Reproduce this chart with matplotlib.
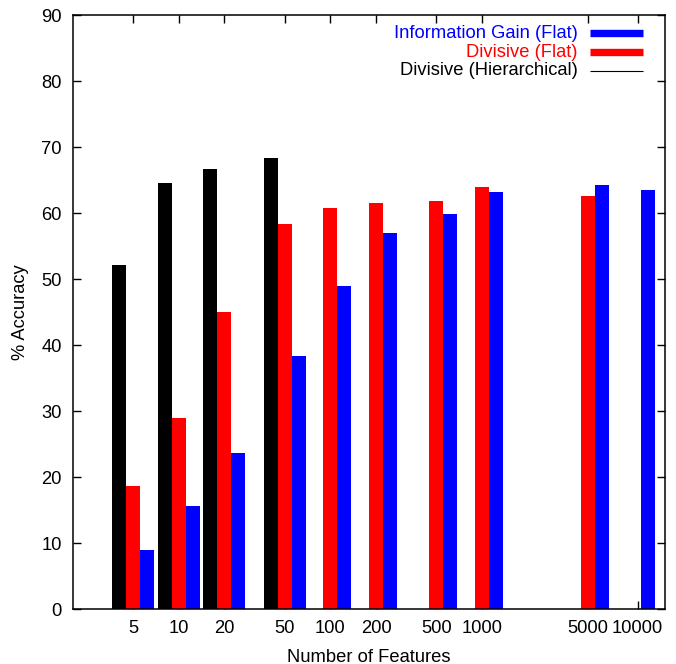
import numpy as np
import matplotlib
matplotlib.use("Agg")
import matplotlib.pyplot as plt
from matplotlib.lines import Line2D

plt.rcParams['font.family'] = ['Liberation Sans', 'DejaVu Sans']

# number of features used for each run
features = [5, 10, 20, 50, 100, 200, 500, 1000, 5000, 10000]
feature_labels = ['5', '10', '20', '50', '100', '200', '500', '1000', '5000', '10000']

# % accuracy, None where no run was made
hier_divisive = [52.1, 64.5, 66.7, 68.3, None, None, None, None, None, None]
flat_divisive = [18.7, 29.0, 45.0, 58.4, 60.8, 61.5, 61.8, 64.0, 62.6, None]
flat_infogain = [9.0, 15.6, 23.6, 38.4, 49.0, 57.0, 59.9, 63.2, 64.3, 63.5]

series = [
    ('Information Gain (Flat)', flat_infogain, '#0000ff', 1, 5.3),
    ('Divisive (Flat)', flat_divisive, '#ff0000', 0, 5.3),
    ('Divisive (Hierarchical)', hier_divisive, '#000000', -1, 0.8),
]

FS = 13.2

fig = plt.figure(figsize=(6.76, 6.64), dpi=100)
ax = fig.add_axes([0.1075, 0.0824, 0.8762, 0.895])

xpos = np.log10(features)
w = 0.0923

for name, vals, col, off, lw in series:
    xs = [x + off * w for x, v in zip(xpos, vals) if v is not None]
    ys = [v for v in vals if v is not None]
    ax.bar(xs, ys, width=w, color=col, edgecolor='none', zorder=2)

# last tick sits a little to the right so its label clears "5000"
tick_pos = xpos.copy()
tick_pos[-1] += 0.026

ax.set_xlim(0.3014, 4.2067)
ax.set_ylim(0, 90)
ax.set_yticks(np.arange(0, 91, 10))
ax.set_xticks(tick_pos)
ax.set_xticklabels(feature_labels)
ax.set_axisbelow(True)

ax.tick_params(direction='in', length=5.8, width=1, labelsize=FS, pad=8,
               top=True, right=True, colors='black')
ax.tick_params(axis='x', pad=8)
for s in ax.spines.values():
    s.set_linewidth(1.1)
    s.set_zorder(3)

ax.set_xlabel('Number of Features', fontsize=FS, labelpad=8)
ax.set_ylabel('% Accuracy', fontsize=FS, labelpad=9)

# key in the upper right, text right-aligned beside a line sample
rows = [0.9697, 0.9372, 0.9063]
for (name, vals, col, off, lw), yy in zip(series, rows):
    ax.text(0.853, yy, name, color=col, fontsize=FS, ha='right', va='center',
            transform=ax.transAxes)
    ax.add_line(Line2D([0.8734, 0.9629], [yy, yy], color=col, lw=lw,
                       solid_capstyle='butt', transform=ax.transAxes))

fig.savefig('out.png', dpi=100)
